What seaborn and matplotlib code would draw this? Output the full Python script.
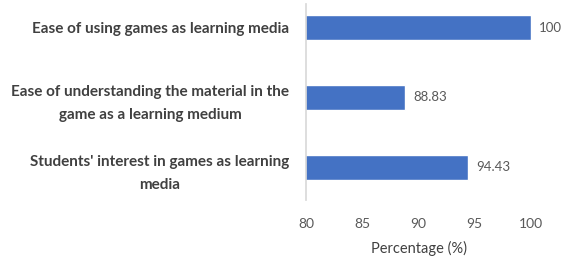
import matplotlib
matplotlib.use("Agg")
import matplotlib.pyplot as plt
import seaborn as sns
import pandas as pd

categories = [
    "Ease of using games as learning media",
    "Ease of understanding the material in the\ngame as a learning medium",
    "Students' interest in games as learning\nmedia",
]
values = [100, 88.83, 94.43]
value_labels = ["100", "88.83", "94.43"]
x_ticks = [80, 85, 90, 95, 100]

sns.set_theme(style="white")
plt.rcParams['font.family'] = ['Lato', 'DejaVu Sans']

df = pd.DataFrame({"cat": categories, "val": values})

fig = plt.figure(figsize=(5.61, 2.59), dpi=100)
ax = fig.add_axes([0.5455, 0.2278, 0.401, 0.7568])
sns.barplot(data=df, x="val", y="cat", color="#4472C4", width=0.36, ax=ax, saturation=1)
ax.set_xlim(80, 100)
ax.set_ylim(2.47, -0.337)
ax.set_xticks(x_ticks)
ax.set_xticklabels([str(t) for t in x_ticks], color="#595959", fontsize=10)
ax.tick_params(axis='x', length=0, pad=13)
ax.tick_params(axis='y', length=0, pad=12)
for lbl in ax.get_yticklabels():
    lbl.set_fontweight('bold')
    lbl.set_color('#404040')
    lbl.set_fontsize(11)
    lbl.set_multialignment('center')
    lbl.set_linespacing(1.85)
for s in ['top', 'right', 'bottom']:
    ax.spines[s].set_visible(False)
ax.spines['left'].set_color('#D9D9D9')
ax.set_ylabel("")
ax.set_xlabel("Percentage (%)", color="#404040", fontsize=10.5, labelpad=8)
for i, (v, t) in enumerate(zip(values, value_labels)):
    ax.annotate(t, (v, i), xytext=(6, 0), textcoords='offset points', va='center', ha='left',
                color='#595959', fontsize=9.5)
ax.patch.set_alpha(0)
fig.savefig("out.png", dpi=100)
